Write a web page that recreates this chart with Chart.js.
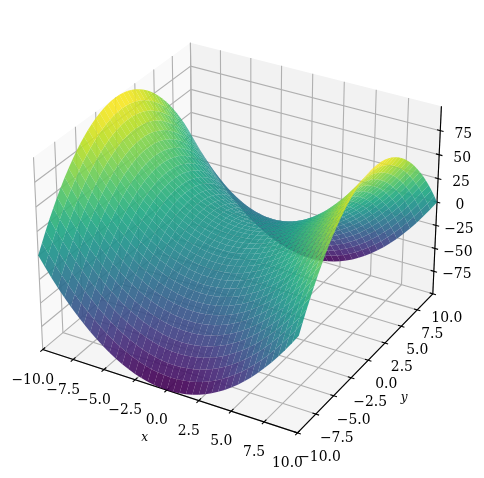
<!DOCTYPE html>
<html>
<head>
<meta charset="utf-8">
<style>
html, body { margin: 0; padding: 0; background: #fff; }
canvas { display: block; }
</style>
<script src="https://cdn.jsdelivr.net/npm/chart.js@4/dist/chart.umd.js"></script>
</head>
<body>
<canvas id="surface" width="484" height="478"></canvas>
<script>
const xValues = [-10,-9.5,-9,-8.5,-8,-7.5,-7,-6.5,-6,-5.5,-5,-4.5,-4,-3.5,-3,-2.5,-2,-1.5,-1,-0.5,0,0.5,1,1.5,2,2.5,3,3.5,4,4.5,5,5.5,6,6.5,7,7.5,8,8.5,9,9.5,10];
const yValues = [-10,-9.5,-9,-8.5,-8,-7.5,-7,-6.5,-6,-5.5,-5,-4.5,-4,-3.5,-3,-2.5,-2,-1.5,-1,-0.5,0,0.5,1,1.5,2,2.5,3,3.5,4,4.5,5,5.5,6,6.5,7,7.5,8,8.5,9,9.5,10];

// surface heights, one list per y position (it is mirrored about y=0)
const rowY0 = [100,90.25,81,72.25,64,56.25,49,42.25,36,30.25,25,20.25,16,12.25,9,6.25,4,2.25,1,0.25,0,0.25,1,2.25,4,6.25,9,12.25,16,20.25,25,30.25,36,42.25,49,56.25,64,72.25,81,90.25,100];
const rowY05 = [99.75,90,80.75,72,63.75,56,48.75,42,35.75,30,24.75,20,15.75,12,8.75,6,3.75,2,0.75,0,-0.25,0,0.75,2,3.75,6,8.75,12,15.75,20,24.75,30,35.75,42,48.75,56,63.75,72,80.75,90,99.75];
const rowY1 = [99,89.25,80,71.25,63,55.25,48,41.25,35,29.25,24,19.25,15,11.25,8,5.25,3,1.25,0,-0.75,-1,-0.75,0,1.25,3,5.25,8,11.25,15,19.25,24,29.25,35,41.25,48,55.25,63,71.25,80,89.25,99];
const rowY15 = [97.75,88,78.75,70,61.75,54,46.75,40,33.75,28,22.75,18,13.75,10,6.75,4,1.75,0,-1.25,-2,-2.25,-2,-1.25,0,1.75,4,6.75,10,13.75,18,22.75,28,33.75,40,46.75,54,61.75,70,78.75,88,97.75];
const rowY2 = [96,86.25,77,68.25,60,52.25,45,38.25,32,26.25,21,16.25,12,8.25,5,2.25,0,-1.75,-3,-3.75,-4,-3.75,-3,-1.75,0,2.25,5,8.25,12,16.25,21,26.25,32,38.25,45,52.25,60,68.25,77,86.25,96];
const rowY25 = [93.75,84,74.75,66,57.75,50,42.75,36,29.75,24,18.75,14,9.75,6,2.75,0,-2.25,-4,-5.25,-6,-6.25,-6,-5.25,-4,-2.25,0,2.75,6,9.75,14,18.75,24,29.75,36,42.75,50,57.75,66,74.75,84,93.75];
const rowY3 = [91,81.25,72,63.25,55,47.25,40,33.25,27,21.25,16,11.25,7,3.25,0,-2.75,-5,-6.75,-8,-8.75,-9,-8.75,-8,-6.75,-5,-2.75,0,3.25,7,11.25,16,21.25,27,33.25,40,47.25,55,63.25,72,81.25,91];
const rowY35 = [87.75,78,68.75,60,51.75,44,36.75,30,23.75,18,12.75,8,3.75,0,-3.25,-6,-8.25,-10,-11.25,-12,-12.25,-12,-11.25,-10,-8.25,-6,-3.25,0,3.75,8,12.75,18,23.75,30,36.75,44,51.75,60,68.75,78,87.75];
const rowY4 = [84,74.25,65,56.25,48,40.25,33,26.25,20,14.25,9,4.25,0,-3.75,-7,-9.75,-12,-13.75,-15,-15.75,-16,-15.75,-15,-13.75,-12,-9.75,-7,-3.75,0,4.25,9,14.25,20,26.25,33,40.25,48,56.25,65,74.25,84];
const rowY45 = [79.75,70,60.75,52,43.75,36,28.75,22,15.75,10,4.75,0,-4.25,-8,-11.25,-14,-16.25,-18,-19.25,-20,-20.25,-20,-19.25,-18,-16.25,-14,-11.25,-8,-4.25,0,4.75,10,15.75,22,28.75,36,43.75,52,60.75,70,79.75];
const rowY5 = [75,65.25,56,47.25,39,31.25,24,17.25,11,5.25,0,-4.75,-9,-12.75,-16,-18.75,-21,-22.75,-24,-24.75,-25,-24.75,-24,-22.75,-21,-18.75,-16,-12.75,-9,-4.75,0,5.25,11,17.25,24,31.25,39,47.25,56,65.25,75];
const rowY55 = [69.75,60,50.75,42,33.75,26,18.75,12,5.75,0,-5.25,-10,-14.25,-18,-21.25,-24,-26.25,-28,-29.25,-30,-30.25,-30,-29.25,-28,-26.25,-24,-21.25,-18,-14.25,-10,-5.25,0,5.75,12,18.75,26,33.75,42,50.75,60,69.75];
const rowY6 = [64,54.25,45,36.25,28,20.25,13,6.25,0,-5.75,-11,-15.75,-20,-23.75,-27,-29.75,-32,-33.75,-35,-35.75,-36,-35.75,-35,-33.75,-32,-29.75,-27,-23.75,-20,-15.75,-11,-5.75,0,6.25,13,20.25,28,36.25,45,54.25,64];
const rowY65 = [57.75,48,38.75,30,21.75,14,6.75,0,-6.25,-12,-17.25,-22,-26.25,-30,-33.25,-36,-38.25,-40,-41.25,-42,-42.25,-42,-41.25,-40,-38.25,-36,-33.25,-30,-26.25,-22,-17.25,-12,-6.25,0,6.75,14,21.75,30,38.75,48,57.75];
const rowY7 = [51,41.25,32,23.25,15,7.25,0,-6.75,-13,-18.75,-24,-28.75,-33,-36.75,-40,-42.75,-45,-46.75,-48,-48.75,-49,-48.75,-48,-46.75,-45,-42.75,-40,-36.75,-33,-28.75,-24,-18.75,-13,-6.75,0,7.25,15,23.25,32,41.25,51];
const rowY75 = [43.75,34,24.75,16,7.75,0,-7.25,-14,-20.25,-26,-31.25,-36,-40.25,-44,-47.25,-50,-52.25,-54,-55.25,-56,-56.25,-56,-55.25,-54,-52.25,-50,-47.25,-44,-40.25,-36,-31.25,-26,-20.25,-14,-7.25,0,7.75,16,24.75,34,43.75];
const rowY8 = [36,26.25,17,8.25,0,-7.75,-15,-21.75,-28,-33.75,-39,-43.75,-48,-51.75,-55,-57.75,-60,-61.75,-63,-63.75,-64,-63.75,-63,-61.75,-60,-57.75,-55,-51.75,-48,-43.75,-39,-33.75,-28,-21.75,-15,-7.75,0,8.25,17,26.25,36];
const rowY85 = [27.75,18,8.75,0,-8.25,-16,-23.25,-30,-36.25,-42,-47.25,-52,-56.25,-60,-63.25,-66,-68.25,-70,-71.25,-72,-72.25,-72,-71.25,-70,-68.25,-66,-63.25,-60,-56.25,-52,-47.25,-42,-36.25,-30,-23.25,-16,-8.25,0,8.75,18,27.75];
const rowY9 = [19,9.25,0,-8.75,-17,-24.75,-32,-38.75,-45,-50.75,-56,-60.75,-65,-68.75,-72,-74.75,-77,-78.75,-80,-80.75,-81,-80.75,-80,-78.75,-77,-74.75,-72,-68.75,-65,-60.75,-56,-50.75,-45,-38.75,-32,-24.75,-17,-8.75,0,9.25,19];
const rowY95 = [9.75,0,-9.25,-18,-26.25,-34,-41.25,-48,-54.25,-60,-65.25,-70,-74.25,-78,-81.25,-84,-86.25,-88,-89.25,-90,-90.25,-90,-89.25,-88,-86.25,-84,-81.25,-78,-74.25,-70,-65.25,-60,-54.25,-48,-41.25,-34,-26.25,-18,-9.25,0,9.75];
const rowY10 = [0,-9.75,-19,-27.75,-36,-43.75,-51,-57.75,-64,-69.75,-75,-79.75,-84,-87.75,-91,-93.75,-96,-97.75,-99,-99.75,-100,-99.75,-99,-97.75,-96,-93.75,-91,-87.75,-84,-79.75,-75,-69.75,-64,-57.75,-51,-43.75,-36,-27.75,-19,-9.75,0];
const zRows = [rowY10,rowY95,rowY9,rowY85,rowY8,rowY75,rowY7,rowY65,rowY6,rowY55,rowY5,rowY45,rowY4,rowY35,rowY3,rowY25,rowY2,rowY15,rowY1,rowY05,rowY0,rowY05,rowY1,rowY15,rowY2,rowY25,rowY3,rowY35,rowY4,rowY45,rowY5,rowY55,rowY6,rowY65,rowY7,rowY75,rowY8,rowY85,rowY9,rowY95,rowY10];

const xTicks = [-10,-7.5,-5,-2.5,0,2.5,5,7.5,10];
const yTicks = [-10,-7.5,-5,-2.5,0,2.5,5,7.5,10];
const zTicks = [-75,-50,-25,0,25,50,75];
const xTickLabels = ['−10.0','−7.5','−5.0','−2.5','0.0','2.5','5.0','7.5','10.0'];
const yTickLabels = ['−10.0','−7.5','−5.0','−2.5','0.0','2.5','5.0','7.5','10.0'];
const zTickLabels = ['−75','−50','−25','0','25','50','75'];

const viridis = ['#440154','#482475','#414487','#355f8d','#2a788e','#21918c','#22a884','#44bf70','#7ad151','#bddf26','#fde725'];

const SURFACE_ALPHA = 0.92;
const GRID = '#b0b0b0';
const LIMIT = 10, ZLIMIT = 100;

// same camera as a default 3d axes: elev 30, azim -60, distance 10, box 4:4:3
const el = 30 * Math.PI / 180, az = -60 * Math.PI / 180, dist = 10;
const box = [1.1905, 1.1905, 0.8929];
const u = [Math.cos(el) * Math.cos(az), Math.cos(el) * Math.sin(az), Math.sin(el)];
const v = [-Math.sin(az), Math.cos(az), 0];
const w = [u[1] * v[2] - u[2] * v[1], u[2] * v[0] - u[0] * v[2], u[0] * v[1] - u[1] * v[0]];

function dot(a, b) {
    return a[0] * b[0] + a[1] * b[1] + a[2] * b[2];
}

function project(x, y, z) {
    const d = [x / LIMIT * box[0] / 2, y / LIMIT * box[1] / 2, z / ZLIMIT * box[2] / 2];
    const depth = dist - dot(u, d);
    return { x: dot(v, d) / depth, y: dot(w, d) / depth, depth: depth };
}

function colorFor(z) {
    const t = Math.min(1, Math.max(0, (z + 97) / 194)) * (viridis.length - 1);
    const i = Math.min(viridis.length - 2, Math.floor(t));
    const f = t - i;
    const a = viridis[i], b = viridis[i + 1];
    const rgb = [1, 3, 5].map((p) => {
        const c1 = parseInt(a.substr(p, 2), 16);
        const c2 = parseInt(b.substr(p, 2), 16);
        return Math.round(c1 + (c2 - c1) * f);
    });
    return 'rgba(' + rgb.join(',') + ',' + SURFACE_ALPHA + ')';
}

const datasets = [];

function addLine(points, color, width) {
    datasets.push({
        data: points.map((p) => project(p[0], p[1], p[2])),
        showLine: true,
        pointRadius: 0,
        borderColor: color,
        borderWidth: width,
        borderCapStyle: 'butt',
        fill: false,
        clip: false,
    });
}

function addFill(points, color) {
    datasets.push({
        data: points,
        showLine: true,
        pointRadius: 0,
        borderColor: 'transparent',
        borderWidth: 0,
        backgroundColor: color,
        fill: 'shape',
        clip: false,
    });
}

function addPane(corners, color) {
    addFill(corners.map((p) => project(p[0], p[1], p[2])), color);
}

// panes
addPane([[-LIMIT, -LIMIT, -ZLIMIT], [-LIMIT, LIMIT, -ZLIMIT], [-LIMIT, LIMIT, ZLIMIT], [-LIMIT, -LIMIT, ZLIMIT]], '#f9f9f9');
addPane([[-LIMIT, LIMIT, -ZLIMIT], [LIMIT, LIMIT, -ZLIMIT], [LIMIT, LIMIT, ZLIMIT], [-LIMIT, LIMIT, ZLIMIT]], '#f2f2f2');
addPane([[-LIMIT, -LIMIT, -ZLIMIT], [LIMIT, -LIMIT, -ZLIMIT], [LIMIT, LIMIT, -ZLIMIT], [-LIMIT, LIMIT, -ZLIMIT]], '#f5f5f5');

// grid lines run across two panes each
xTicks.forEach((t) => addLine([[t, -LIMIT, -ZLIMIT], [t, LIMIT, -ZLIMIT], [t, LIMIT, ZLIMIT]], GRID, 1.1));
yTicks.forEach((t) => addLine([[LIMIT, t, -ZLIMIT], [-LIMIT, t, -ZLIMIT], [-LIMIT, t, ZLIMIT]], GRID, 1.1));
zTicks.forEach((t) => addLine([[-LIMIT, -LIMIT, t], [-LIMIT, LIMIT, t], [LIMIT, LIMIT, t]], GRID, 1.1));

// axis lines and tick marks
addLine([[-LIMIT, -LIMIT, -ZLIMIT], [LIMIT, -LIMIT, -ZLIMIT]], '#000', 1.1);
addLine([[LIMIT, -LIMIT, -ZLIMIT], [LIMIT, LIMIT, -ZLIMIT]], '#000', 1.1);
addLine([[LIMIT, LIMIT, -ZLIMIT], [LIMIT, LIMIT, ZLIMIT]], '#000', 1.1);
xTicks.forEach((t) => addLine([[t, -LIMIT + 0.3, -ZLIMIT], [t, -LIMIT - 0.3, -ZLIMIT]], '#000', 1.1));
yTicks.forEach((t) => addLine([[LIMIT - 0.25, t, -ZLIMIT], [LIMIT + 0.25, t, -ZLIMIT]], '#000', 1.1));
zTicks.forEach((t) => addLine([[LIMIT - 0.25, LIMIT, t], [LIMIT + 0.25, LIMIT, t]], '#000', 1.1));

// surface facets, far ones first
const facets = [];
for (let j = 0; j < yValues.length - 1; j++) {
    for (let i = 0; i < xValues.length - 1; i++) {
        const z1 = zRows[j][i], z2 = zRows[j][i + 1], z3 = zRows[j + 1][i + 1], z4 = zRows[j + 1][i];
        const pts = [
            project(xValues[i], yValues[j], z1),
            project(xValues[i + 1], yValues[j], z2),
            project(xValues[i + 1], yValues[j + 1], z3),
            project(xValues[i], yValues[j + 1], z4),
        ];
        facets.push({
            pts: pts,
            depth: (pts[0].depth + pts[1].depth + pts[2].depth + pts[3].depth) / 4,
            color: colorFor((z1 + z2 + z3 + z4) / 4),
        });
    }
}
facets.sort((a, b) => b.depth - a.depth);
facets.forEach((f) => addFill(f.pts, f.color));

// chart.js paints the lowest order last
datasets.forEach((d, i) => {
    d.order = datasets.length - i;
});

const tickText = {
    id: 'tickText',
    afterDatasetsDraw(chart) {
        const ctx = chart.ctx;
        const px = (p) => [chart.scales.x.getPixelForValue(p.x), chart.scales.y.getPixelForValue(p.y)];
        ctx.save();
        ctx.fillStyle = '#000';
        ctx.textAlign = 'center';
        ctx.textBaseline = 'middle';
        ctx.font = '13.9px "DejaVu Serif"';
        xTicks.forEach((t, i) => {
            const p = px(project(t, -LIMIT, -ZLIMIT));
            ctx.fillText(xTickLabels[i], p[0] - 10, p[1] + 30.5);
        });
        yTicks.forEach((t, i) => {
            const p = px(project(LIMIT, t, -ZLIMIT));
            ctx.fillText(yTickLabels[i], p[0] + 18 - t * 0.4, p[1] + 24.5);
        });
        zTicks.forEach((t, i) => {
            const p = px(project(LIMIT, LIMIT, t));
            ctx.fillText(zTickLabels[i], p[0] + 23, p[1] + 3.5);
        });
        ctx.font = 'italic 12px "DejaVu Serif"';
        const xl = px(project(0, -LIMIT, -ZLIMIT));
        ctx.fillText('x', xl[0] - 22, xl[1] + 48);
        const yl = px(project(LIMIT, 0, -ZLIMIT));
        ctx.fillText('y', yl[0] + 36, yl[1] + 38);
        ctx.restore();
    },
};

new Chart(document.getElementById('surface'), {
    type: 'scatter',
    data: { datasets: datasets },
    options: {
        responsive: false,
        animation: false,
        events: [],
        layout: { padding: { left: 8.5, right: 22, top: 7.5, bottom: 16.5 } },
        scales: {
            x: { type: 'linear', min: -0.095, max: 0.09, display: false },
            y: { type: 'linear', min: -0.095, max: 0.09, display: false },
        },
        plugins: { legend: { display: false }, tooltip: { enabled: false } },
    },
    plugins: [tickText],
});
</script>
</body>
</html>
